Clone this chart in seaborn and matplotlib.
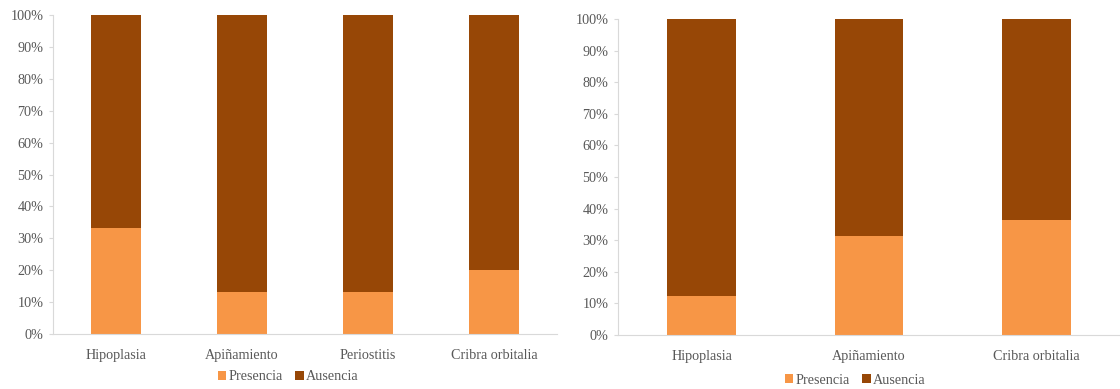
import matplotlib
matplotlib.use("Agg")
import matplotlib.pyplot as plt
from matplotlib.patches import Patch
from matplotlib.ticker import PercentFormatter
import pandas as pd
import seaborn as sns

# Left panel: four conditions
cats_a = ["Hipoplasia", "Apiñamiento", "Periostitis", "Cribra orbitalia"]
presencia_a = [33.3, 13.3, 13.3, 20.0]
ausencia_a = [66.7, 86.7, 86.7, 80.0]

# Right panel: three conditions
cats_b = ["Hipoplasia", "Apiñamiento", "Cribra orbitalia"]
presencia_b = [12.5, 31.2, 36.4]
ausencia_b = [87.5, 68.8, 63.6]

y_ticks = [0, 10, 20, 30, 40, 50, 60, 70, 80, 90, 100]
series_names = ["Presencia", "Ausencia"]

C_PRES = "#F79646"
C_AUS = "#974706"
TXT = "#595959"
AXC = "#D9D9D9"
FS = 10.2

sns.set_theme(style="white")
plt.rcParams["font.family"] = ["Liberation Serif", "DejaVu Serif"]

fig = plt.figure(figsize=(11.2, 3.89), dpi=100)
ax1 = fig.add_axes([53 / 1120, (389 - 334) / 389, 504 / 1120, 319 / 389])
ax2 = fig.add_axes([618 / 1120, (389 - 335) / 389, 502 / 1120, 316 / 389])


def stacked(ax, cats, pres, aus, width, legend_x, legend_y):
    df = pd.DataFrame({"cat": cats, "pres": pres, "aus": aus})
    df["total"] = df["pres"] + df["aus"]
    # full-height bar for Ausencia, Presencia drawn over its lower part
    sns.barplot(data=df, x="cat", y="total", color=C_AUS, width=width,
                saturation=1, linewidth=0, ax=ax)
    sns.barplot(data=df, x="cat", y="pres", color=C_PRES, width=width,
                saturation=1, linewidth=0, ax=ax)
    ax.set_xlim(-0.5, len(cats) - 0.5)
    ax.set_ylim(0, 100)
    ax.set_yticks(y_ticks)
    ax.yaxis.set_major_formatter(PercentFormatter(decimals=0))
    ax.set_xlabel("")
    ax.set_ylabel("")
    for s in ["top", "right"]:
        ax.spines[s].set_visible(False)
    for s in ["left", "bottom"]:
        ax.spines[s].set_color(AXC)
        ax.spines[s].set_linewidth(0.8)
    ax.tick_params(axis="y", which="major", left=True, length=3, width=0.8,
                   color=AXC, labelsize=FS, labelcolor=TXT, pad=4)
    ax.tick_params(axis="x", bottom=False, labelsize=FS, labelcolor=TXT, pad=5)
    handles = [Patch(facecolor=C_PRES, edgecolor="none"),
               Patch(facecolor=C_AUS, edgecolor="none")]
    leg = ax.legend(handles, series_names, loc="center", ncol=2,
                    bbox_to_anchor=(legend_x, legend_y), bbox_transform=ax.transAxes,
                    frameon=False, fontsize=FS, handlelength=0.6, handleheight=0.6,
                    handletextpad=0.15, columnspacing=0.9)
    for t in leg.get_texts():
        t.set_color(TXT)


stacked(ax1, cats_a, presencia_a, ausencia_a, 0.40,
        (288 - 53) / 504, (334 - 377) / 319)
stacked(ax2, cats_b, presencia_b, ausencia_b, 0.41,
        (855 - 618) / 502, (335 - 380) / 316)

fig.savefig("out.png", dpi=100, facecolor="white")
